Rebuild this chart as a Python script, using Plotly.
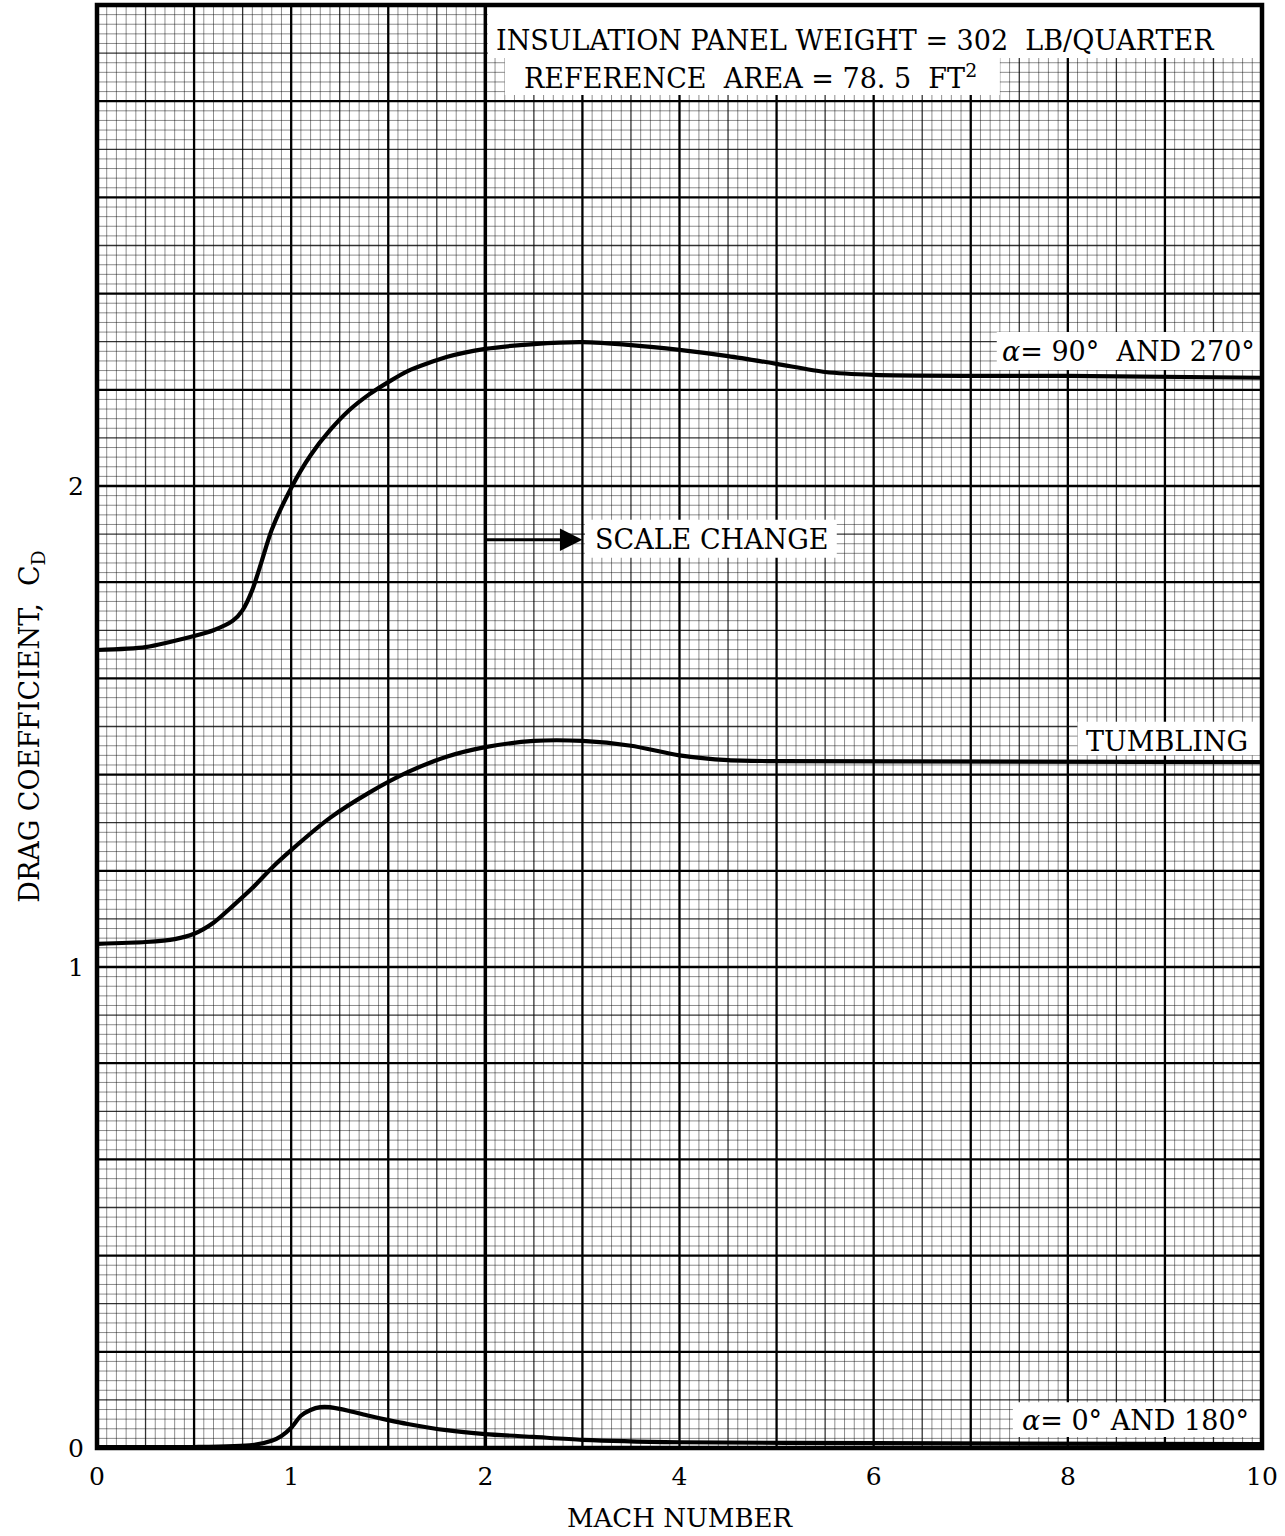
import numpy as np
import plotly.graph_objects as go

# Mach number samples and drag coefficients for each attitude
mach_90 = [0.0, 0.25, 0.5, 0.6, 0.7, 0.75, 0.8, 0.85, 0.9, 1.0, 1.1, 1.2, 1.3, 1.4, 1.5,
           1.6, 1.8, 2.0, 2.5, 3.0, 3.5, 4.0, 4.5, 5.0, 5.5, 6.0, 7.0, 8.0, 10.0]
cd_90 = [1.659, 1.665, 1.688, 1.70, 1.72, 1.742, 1.784, 1.846, 1.909, 1.996, 2.064, 2.116,
         2.158, 2.19, 2.216, 2.239, 2.268, 2.285, 2.295, 2.299, 2.293, 2.283, 2.27, 2.254,
         2.237, 2.231, 2.229, 2.229, 2.225]

mach_tumble = [0.0, 0.25, 0.4, 0.5, 0.6, 0.7, 0.8, 0.9, 1.0, 1.2, 1.4, 1.6, 1.8, 2.0, 2.5,
               3.0, 3.5, 4.0, 4.5, 5.0, 10.0]
cd_tumble = [1.048, 1.052, 1.058, 1.069, 1.092, 1.127, 1.164, 1.206, 1.243, 1.31, 1.362,
             1.405, 1.437, 1.457, 1.47, 1.47, 1.46, 1.44, 1.43, 1.428, 1.426]

mach_0 = [0.0, 0.5, 0.8, 0.9, 0.95, 1.0, 1.05, 1.1, 1.15, 1.2, 1.3, 1.4, 1.5, 1.6, 1.8,
          2.0, 2.5, 3.0, 4.0, 6.0, 10.0]
cd_0 = [0.002, 0.002, 0.006, 0.015, 0.025, 0.042, 0.067, 0.079, 0.085, 0.085, 0.077, 0.067,
        0.058, 0.05, 0.037, 0.029, 0.023, 0.017, 0.012, 0.01, 0.008]

mach_ticks = [0, 1, 2, 4, 6, 8, 10]
cd_ticks = [0, 1, 2]

FONT = "DejaVu Serif"


def mach_scale(m):
    """Horizontal scale: linear to Mach 2, then half the scale up to Mach 10."""
    m = np.asarray(m, dtype=float)
    return np.where(m <= 2.0, m, 2.0 + (m - 2.0) / 2.0)


fig = go.Figure()

# graph-paper ruling: fine, medium and heavy lines
levels = {
    "minor": dict(color="rgba(0,0,0,0.45)", width=1),
    "medium": dict(color="rgba(0,0,0,0.8)", width=1.3),
    "heavy": dict(color="black", width=2.3),
}
segs = {k: ([], []) for k in levels}
for i in range(121):
    xv = i * 0.05
    lev = "heavy" if i % 10 == 0 else ("medium" if i % 5 == 0 else "minor")
    segs[lev][0].extend([xv, xv, None])
    segs[lev][1].extend([0, 3, None])
for j in range(151):
    yv = j * 0.02
    lev = "heavy" if j % 10 == 0 else ("medium" if j % 5 == 0 else "minor")
    segs[lev][0].extend([0, 6, None])
    segs[lev][1].extend([yv, yv, None])
for lev in ["minor", "medium", "heavy"]:
    fig.add_trace(go.Scatter(x=segs[lev][0], y=segs[lev][1], mode="lines",
                             line=levels[lev], hoverinfo="skip", showlegend=False))

# scale-change rule at Mach 2
fig.add_trace(go.Scatter(x=mach_scale([2, 2]), y=[0, 3], mode="lines",
                         line=dict(color="black", width=3.5), hoverinfo="skip",
                         showlegend=False))

# white label panels cut out of the ruling
panels = [
    (2.013, 6.0, 2.89, 3.0),
    (2.10, 4.65, 2.813, 2.892),
    (4.634, 6.0, 2.241, 2.32),
    (2.513, 3.81, 1.851, 1.93),
    (5.05, 6.0, 1.44, 1.51),
    (4.717, 6.0, 0.023, 0.095),
]
shapes = []
for x0, x1, y0, y1 in panels:
    shapes.append(dict(type="rect", xref="x", yref="y", x0=x0, x1=x1, y0=y0, y1=y1,
                       fillcolor="white", line=dict(width=0), layer="above"))

# drag curves
for mx, cd, name in [(mach_90, cd_90, "α = 90° and 270°"),
                     (mach_tumble, cd_tumble, "Tumbling"),
                     (mach_0, cd_0, "α = 0° and 180°")]:
    fig.add_trace(go.Scatter(x=mach_scale(mx), y=cd, mode="lines", name=name,
                             line=dict(color="black", width=4.2, shape="spline",
                                       smoothing=0.7),
                             showlegend=False))

# outer frame
shapes.append(dict(type="rect", xref="paper", yref="paper", x0=0, x1=1, y0=0, y1=1,
                   line=dict(color="black", width=4.5), layer="above"))

tf = dict(family=FONT, size=27, color="black")
annotations = [
    dict(x=3.903, y=2.927, text="INSULATION PANEL WEIGHT = 302  LB/QUARTER"),
    dict(x=3.368, y=2.852, text="REFERENCE  AREA = 78. 5  FT<sup>2</sup>"),
    dict(x=5.314, y=2.279, text="<i>α</i>= 90°  AND 270°"),
    dict(x=3.167, y=1.888, text="SCALE CHANGE"),
    dict(x=5.51, y=1.468, text="TUMBLING"),
    dict(x=5.35, y=0.058, text="<i>α</i>= 0° AND 180°"),
]
for a in annotations:
    a.update(xref="x", yref="y", showarrow=False, font=tf, xanchor="center",
             yanchor="middle")
annotations.append(dict(x=2.5, y=1.888, ax=2.0, ay=1.888, xref="x", yref="y",
                        axref="x", ayref="y", text="", showarrow=True, arrowhead=2,
                        arrowsize=1.5, arrowwidth=3, arrowcolor="black"))

fig.update_layout(
    width=1285, height=1536,
    margin=dict(l=97, r=23, t=5, b=88),
    paper_bgcolor="white", plot_bgcolor="white",
    shapes=shapes, annotations=annotations,
    font=dict(family=FONT, color="black"),
)
fig.update_xaxes(
    range=[0, 6], tickvals=mach_scale(mach_ticks).tolist(),
    ticktext=[str(t) for t in mach_ticks], showgrid=False, zeroline=False,
    ticks="", ticklabelstandoff=11, tickfont=dict(family=FONT, size=25),
    title=dict(text="MACH NUMBER", font=dict(family=FONT, size=26), standoff=18),
    automargin=False, showline=False,
)
fig.update_yaxes(
    range=[0, 3], tickvals=cd_ticks, ticktext=[str(t) for t in cd_ticks],
    showgrid=False, zeroline=False, ticks="", ticklabelstandoff=12,
    tickfont=dict(family=FONT, size=25),
    title=dict(text="DRAG COEFFICIENT,  C<sub>D</sub>", font=dict(family=FONT, size=27),
               standoff=20),
    automargin=False, showline=False,
)

fig.write_html("out.html")
